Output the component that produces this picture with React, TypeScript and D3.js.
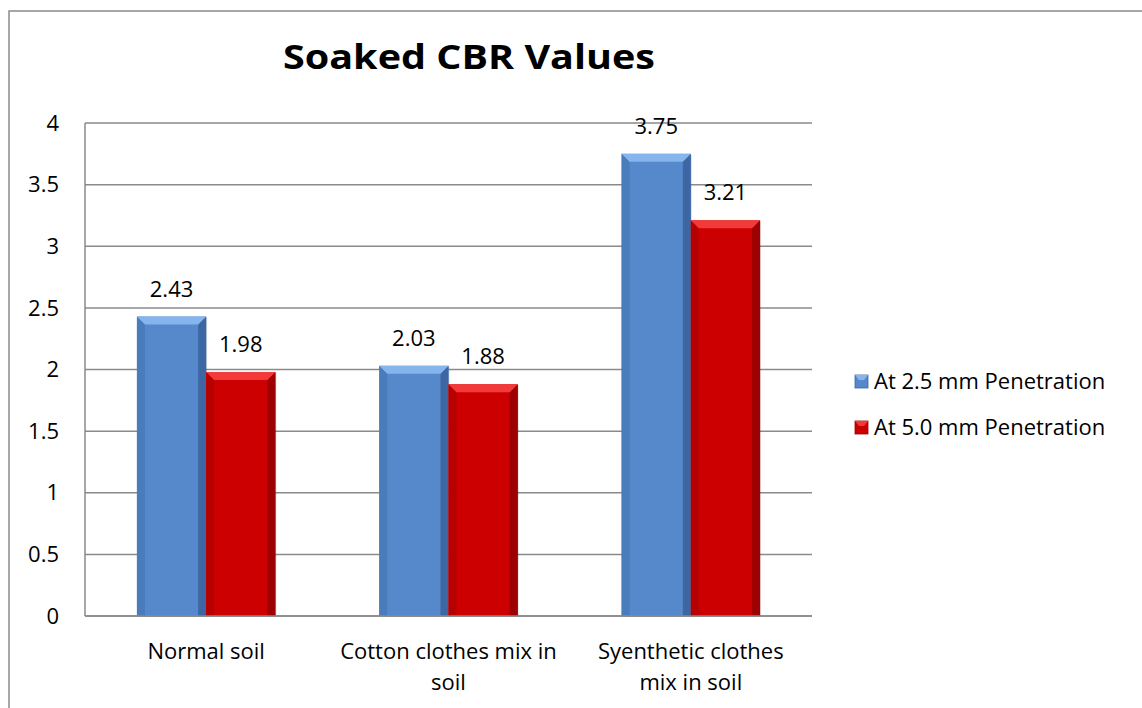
import React from "react";
import * as d3 from "d3";

const categories = [
  ["Normal soil"],
  ["Cotton clothes mix in", "soil"],
  ["Syenthetic clothes", "mix in soil"],
];
const seriesNames = ["At 2.5 mm Penetration", "At 5.0 mm Penetration"];
const at25 = [2.43, 2.03, 3.75];
const at50 = [1.98, 1.88, 3.21];
const yTicks = [0, 0.5, 1, 1.5, 2, 2.5, 3, 3.5, 4];

const W = 1142;
const H = 708;
const FONT = "'Open Sans', 'Noto Sans', sans-serif";
const FS = 22;

// colours for each series: face, top bevel, left edge, right edge
const palette = [
  { face: "#5689cb", top: "#86b4ec", left: "#4a7bbb", right: "#3c67a2" },
  { face: "#cc0000", top: "#f23a3a", left: "#b70000", right: "#9c0000" },
];

export default function App() {
  const left = 85;
  const right = 812;
  const top = 123;
  const bottom = 616;

  const y = d3.scaleLinear().domain([0, 4]).range([bottom, top]);
  const keys = categories.map((c) => c.join(" "));
  const gap = 1.5 / 3.5;
  const x0 = d3
    .scaleBand()
    .domain(keys)
    .range([left, right])
    .paddingInner(gap)
    .paddingOuter(gap / 2);
  const x1 = d3
    .scaleBand()
    .domain(seriesNames)
    .range([0, x0.bandwidth()]);

  const series = [at25, at50];
  const b = 8;

  return (
    <div style={{ position: "absolute", left: 0, top: 0 }}>
      <svg width={W} height={H} style={{ display: "block", background: "#fff" }}>
        <rect x={9} y={11} width={W + 10} height={H + 10} fill="#fff" stroke="#8a8a8a" strokeWidth={1.5} />

        <text
          x={469}
          y={69}
          textAnchor="middle"
          fontFamily={FONT}
          fontWeight="bold"
          fontSize={34}
          textLength={372}
          lengthAdjust="spacingAndGlyphs"
          fill="#000"
        >
          Soaked CBR Values
        </text>

        {/* gridlines */}
        {yTicks.map((t) => (
          <line key={t} x1={left} x2={right} y1={y(t)} y2={y(t)} stroke="#8a8a8a" strokeWidth={1.5} />
        ))}
        <line x1={left} x2={left} y1={top} y2={bottom} stroke="#8a8a8a" strokeWidth={1.5} />

        {/* y tick labels */}
        {yTicks.map((t) => (
          <text
            key={"l" + t}
            x={59}
            y={y(t)}
            dy="0.35em"
            textAnchor="end"
            fontFamily={FONT}
            fontSize={FS}
            fill="#000"
          >
            {t}
          </text>
        ))}

        {/* bars */}
        {series.map((vals, si) =>
          vals.map((v, ci) => {
            const x = (x0(keys[ci]) as number) + (x1(seriesNames[si]) as number);
            const w = x1.bandwidth();
            const yt = y(v);
            const yb = y(0);
            const c = palette[si];
            return (
              <g key={si + "-" + ci}>
                <rect x={x + 1} y={yt + 1} width={w} height={yb - yt} fill="#000" opacity={0.12} />
                <rect x={x} y={yt} width={w} height={yb - yt} fill={c.face} />
                <polygon
                  points={`${x},${yt} ${x + b},${yt + b} ${x + b},${yb} ${x},${yb}`}
                  fill={c.left}
                />
                <polygon
                  points={`${x + w},${yt} ${x + w - b},${yt + b} ${x + w - b},${yb} ${x + w},${yb}`}
                  fill={c.right}
                />
                <polygon
                  points={`${x},${yt} ${x + w},${yt} ${x + w - b},${yt + b} ${x + b},${yt + b}`}
                  fill={c.top}
                />
                <text
                  x={x + w / 2}
                  y={yt - 20}
                  textAnchor="middle"
                  fontFamily={FONT}
                  fontSize={FS}
                  fill="#000"
                >
                  {v.toFixed(2)}
                </text>
              </g>
            );
          })
        )}

        {/* x axis */}
        <line x1={left} x2={right} y1={bottom} y2={bottom} stroke="#8a8a8a" strokeWidth={1.5} />
        {categories.map((lines, ci) => (
          <text
            key={"c" + ci}
            x={(x0(keys[ci]) as number) + x0.bandwidth() / 2}
            y={659}
            textAnchor="middle"
            fontFamily={FONT}
            fontSize={FS}
            fill="#000"
          >
            {lines.map((ln, li) => (
              <tspan key={li} x={(x0(keys[ci]) as number) + x0.bandwidth() / 2} dy={li === 0 ? 0 : 31}>
                {ln}
              </tspan>
            ))}
          </text>
        ))}

        {/* legend */}
        {seriesNames.map((name, si) => {
          const ly = 381 + si * 46;
          const c = palette[si];
          return (
            <g key={name}>
              <rect x={855} y={ly - 6} width={13} height={13} fill={c.face} stroke={c.right} strokeWidth={0.8} />
              <polygon points={`${855},${ly - 6} ${868},${ly - 6} ${864},${ly - 1} ${859},${ly - 1}`} fill={c.top} />
              <text x={874} y={ly} dy="0.35em" fontFamily={FONT} fontSize={FS} fill="#000">
                {name}
              </text>
            </g>
          );
        })}
      </svg>
    </div>
  );
}
